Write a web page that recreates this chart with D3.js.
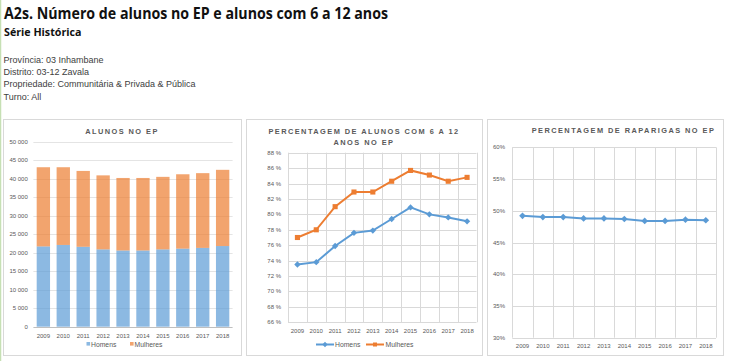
<!DOCTYPE html>
<html>
<head>
<meta charset="utf-8">
<script src="https://cdn.jsdelivr.net/npm/d3@7"></script>
<style>
  body { margin: 0; background: #fff; }
  text { font-family: "Liberation Sans", Arial, sans-serif; }
  .head { font-family: "Open Sans", sans-serif; font-weight: bold; fill: #111; }
  .info { font-size: 9px; fill: #404040; }
  .ctitle { font-size: 7.4px; font-weight: bold; fill: #595959; letter-spacing: 1.45px; text-anchor: middle; }
  .tick { font-size: 6px; fill: #595959; }
  .leg { font-size: 6.8px; fill: #595959; }
</style>
</head>
<body>
<script>
// data
var years = ["2009","2010","2011","2012","2013","2014","2015","2016","2017","2018"];
var homens = [21700, 22100, 21600, 20900, 20600, 20600, 20900, 21100, 21300, 21800];
var mulheres = [21400, 21000, 20500, 20000, 19600, 19600, 19600, 20100, 20200, 20600];
var pct612Homens = [73.5, 73.8, 75.9, 77.6, 77.9, 79.4, 80.9, 80.0, 79.6, 79.1];
var pct612Mulheres = [77.0, 78.0, 81.0, 82.9, 82.9, 84.3, 85.7, 85.1, 84.3, 84.8];
var pctRaparigas = [49.2, 49.0, 49.0, 48.8, 48.8, 48.7, 48.4, 48.4, 48.6, 48.5];
var infoLines = ["Província: 03 Inhambane", "Distrito: 03-12 Zavala",
                 "Propriedade: Communitária & Privada & Pública", "Turno: All"];

var blue = "#5B9BD5", orange = "#ED7D31", grid = "#D9D9D9";

var svg = d3.select("body").append("svg")
    .attr("width", 730)
    .attr("height", 361);

// excel page edge
svg.append("line").attr("x1", 0.5).attr("x2", 0.5).attr("y1", 0).attr("y2", 361)
    .attr("stroke", "#C6E0B4").attr("stroke-width", 1.5);

svg.append("text").attr("class", "head").attr("x", 4).attr("y", 18.5)
    .style("font-size", "15.6px")
    .attr("textLength", 384).attr("lengthAdjust", "spacingAndGlyphs")
    .text("A2s. Número de alunos no EP e alunos com 6 a 12 anos");
svg.append("text").attr("class", "head").attr("x", 4).attr("y", 35.5)
    .style("font-size", "10.6px")
    .attr("textLength", 77.5).attr("lengthAdjust", "spacingAndGlyphs")
    .text("Série Histórica");

svg.selectAll(".info").data(infoLines).enter().append("text")
    .attr("class", "info")
    .attr("x", 3.5)
    .attr("y", function(d, i) { return 62.5 + i * 12.4; })
    .text(function(d) { return d; });

// panel frames
var panels = [[3, 119, 238, 236], [246, 119, 236, 236], [487, 119, 236, 236]];
svg.selectAll(".panel").data(panels).enter().append("rect")
    .attr("class", "panel")
    .attr("x", function(d) { return d[0] + 0.5; })
    .attr("y", function(d) { return d[1] + 0.5; })
    .attr("width", function(d) { return d[2]; })
    .attr("height", function(d) { return d[3]; })
    .attr("fill", "#fff")
    .attr("stroke", grid);

function fmtMil(v) {
    return d3.format(",")(v).replace(/,/g, " ");
}

// ---------- chart 1: ALUNOS NO EP (stacked bars)
var x1 = d3.scaleBand().domain(years).range([33.4, 232.6]).paddingInner(0.33).paddingOuter(0.165);
var y1 = d3.scaleLinear().domain([0, 50000]).range([326.7, 141.7]);
var g1 = svg.append("g");

g1.append("text").attr("class", "ctitle").attr("x", 122).attr("y", 133.5).text("ALUNOS NO EP");

g1.selectAll(".g1grid").data(y1.ticks(10)).enter().append("line")
    .attr("x1", 33.4).attr("x2", 232.6)
    .attr("y1", function(d) { return Math.round(y1(d)) + 0.5; })
    .attr("y2", function(d) { return Math.round(y1(d)) + 0.5; })
    .attr("stroke", function(d) { return d === 0 ? "#BFBFBF" : "#E4E4E4"; });

g1.selectAll(".g1y").data(y1.ticks(10)).enter().append("text")
    .attr("class", "tick").attr("text-anchor", "end")
    .attr("x", 27.8).attr("y", function(d) { return y1(d) + 2; })
    .text(function(d) { return fmtMil(d); });

var stack = years.map(function(yr, i) { return {year: yr, h: homens[i], m: mulheres[i]}; });

g1.selectAll(".barH").data(stack).enter().append("rect")
    .attr("x", function(d) { return x1(d.year); })
    .attr("width", x1.bandwidth())
    .attr("y", function(d) { return y1(d.h); })
    .attr("height", function(d) { return y1(0) - y1(d.h); })
    .attr("fill", blue).attr("fill-opacity", 0.7);

g1.selectAll(".barM").data(stack).enter().append("rect")
    .attr("x", function(d) { return x1(d.year); })
    .attr("width", x1.bandwidth())
    .attr("y", function(d) { return y1(d.h + d.m); })
    .attr("height", function(d) { return y1(d.h) - y1(d.h + d.m); })
    .attr("fill", orange).attr("fill-opacity", 0.7);

g1.selectAll(".g1x").data(years).enter().append("text")
    .attr("class", "tick").attr("text-anchor", "middle")
    .attr("x", function(d) { return x1(d) + x1.bandwidth() / 2; })
    .attr("y", 337.5)
    .text(function(d) { return d; });

g1.append("rect").attr("x", 86.5).attr("y", 342).attr("width", 3.6).attr("height", 3.6).attr("fill", blue).attr("fill-opacity", 0.7);
g1.append("text").attr("class", "leg").attr("x", 91).attr("y", 346.6).text("Homens");
g1.append("rect").attr("x", 130).attr("y", 342).attr("width", 3.6).attr("height", 3.6).attr("fill", orange).attr("fill-opacity", 0.7);
g1.append("text").attr("class", "leg").attr("x", 134.5).attr("y", 346.6).text("Mulheres");

// helper for the line charts
function lineChart(opt) {
    var g = svg.append("g");
    var x = d3.scaleBand().domain(years).range(opt.xr);
    var y = d3.scaleLinear().domain(opt.yd).range(opt.yr);
    var yt = d3.range(opt.yd[0], opt.yd[1] + 0.01, opt.step);
    var cx = function(i) { return x(years[i]) + x.bandwidth() / 2; };

    g.selectAll(".hg").data(yt).enter().append("line")
        .attr("x1", opt.xr[0]).attr("x2", opt.xr[1])
        .attr("y1", function(d) { return Math.round(y(d)) + 0.5; })
        .attr("y2", function(d) { return Math.round(y(d)) + 0.5; })
        .attr("stroke", grid);

    var bounds = years.map(function(d) { return x(d); }).concat([opt.xr[1]]);
    g.selectAll(".vg").data(bounds).enter().append("line")
        .attr("x1", function(d) { return Math.round(d) + 0.5; })
        .attr("x2", function(d) { return Math.round(d) + 0.5; })
        .attr("y1", opt.yr[0]).attr("y2", opt.yr[1])
        .attr("stroke", grid);

    g.selectAll(".yl").data(yt).enter().append("text")
        .attr("class", "tick").attr("text-anchor", "end")
        .attr("x", opt.ylx).attr("y", function(d) { return y(d) + 2; })
        .text(function(d) { return d + opt.pct; });

    g.selectAll(".xl").data(years).enter().append("text")
        .attr("class", "tick").attr("text-anchor", "middle")
        .attr("x", function(d, i) { return cx(i); })
        .attr("y", opt.xly)
        .text(function(d) { return d; });

    opt.series.forEach(function(s) {
        var line = d3.line()
            .x(function(d, i) { return cx(i); })
            .y(function(d) { return y(d); });
        g.append("path").datum(s.values)
            .attr("d", line)
            .attr("fill", "none")
            .attr("stroke", s.color)
            .attr("stroke-width", 2);
        g.selectAll(null).data(s.values).enter().append("path")
            .attr("d", d3.symbol().type(d3.symbolSquare).size(s.size))
            .attr("transform", function(d, i) {
                return "translate(" + cx(i) + "," + y(d) + ")" + (s.marker === "diamond" ? " rotate(45)" : "");
            })
            .attr("fill", s.color);
    });
    return g;
}

// ---------- chart 2: PERCENTAGEM DE ALUNOS COM 6 A 12 ANOS NO EP
var g2 = lineChart({
    xr: [288, 476.5], yd: [66, 88], yr: [322.3, 152.7], step: 2,
    ylx: 281, xly: 333, pct: " %",
    series: [
        {values: pct612Homens, color: blue, marker: "diamond", size: 20},
        {values: pct612Mulheres, color: orange, marker: "square", size: 26}
    ]
});
g2.append("text").attr("class", "ctitle").attr("x", 364).attr("y", 133.5).text("PERCENTAGEM DE ALUNOS COM 6 A 12");
g2.append("text").attr("class", "ctitle").attr("x", 364).attr("y", 145).text("ANOS NO EP");

g2.append("line").attr("x1", 316).attr("x2", 334).attr("y1", 344.5).attr("y2", 344.5).attr("stroke", blue).attr("stroke-width", 2);
g2.append("path").attr("d", d3.symbol().type(d3.symbolSquare).size(14)).attr("transform", "translate(325,344.5) rotate(45)").attr("fill", blue);
g2.append("text").attr("class", "leg").attr("x", 335).attr("y", 347).text("Homens");
g2.append("line").attr("x1", 366).attr("x2", 384).attr("y1", 344.5).attr("y2", 344.5).attr("stroke", orange).attr("stroke-width", 2);
g2.append("path").attr("d", d3.symbol().type(d3.symbolSquare).size(16)).attr("transform", "translate(375,344.5)").attr("fill", orange);
g2.append("text").attr("class", "leg").attr("x", 385.5).attr("y", 347).text("Mulheres");

// ---------- chart 3: PERCENTAGEM DE RAPARIGAS NO EP
var g3 = lineChart({
    xr: [512.3, 716], yd: [30, 60], yr: [337.7, 147.3], step: 5,
    ylx: 505, xly: 347.8, pct: "%",
    series: [
        {values: pctRaparigas, color: blue, marker: "diamond", size: 22}
    ]
});
g3.append("text").attr("class", "ctitle").attr("x", 623.5).attr("y", 133.3).text("PERCENTAGEM DE RAPARIGAS NO EP");
</script>
</body>
</html>
